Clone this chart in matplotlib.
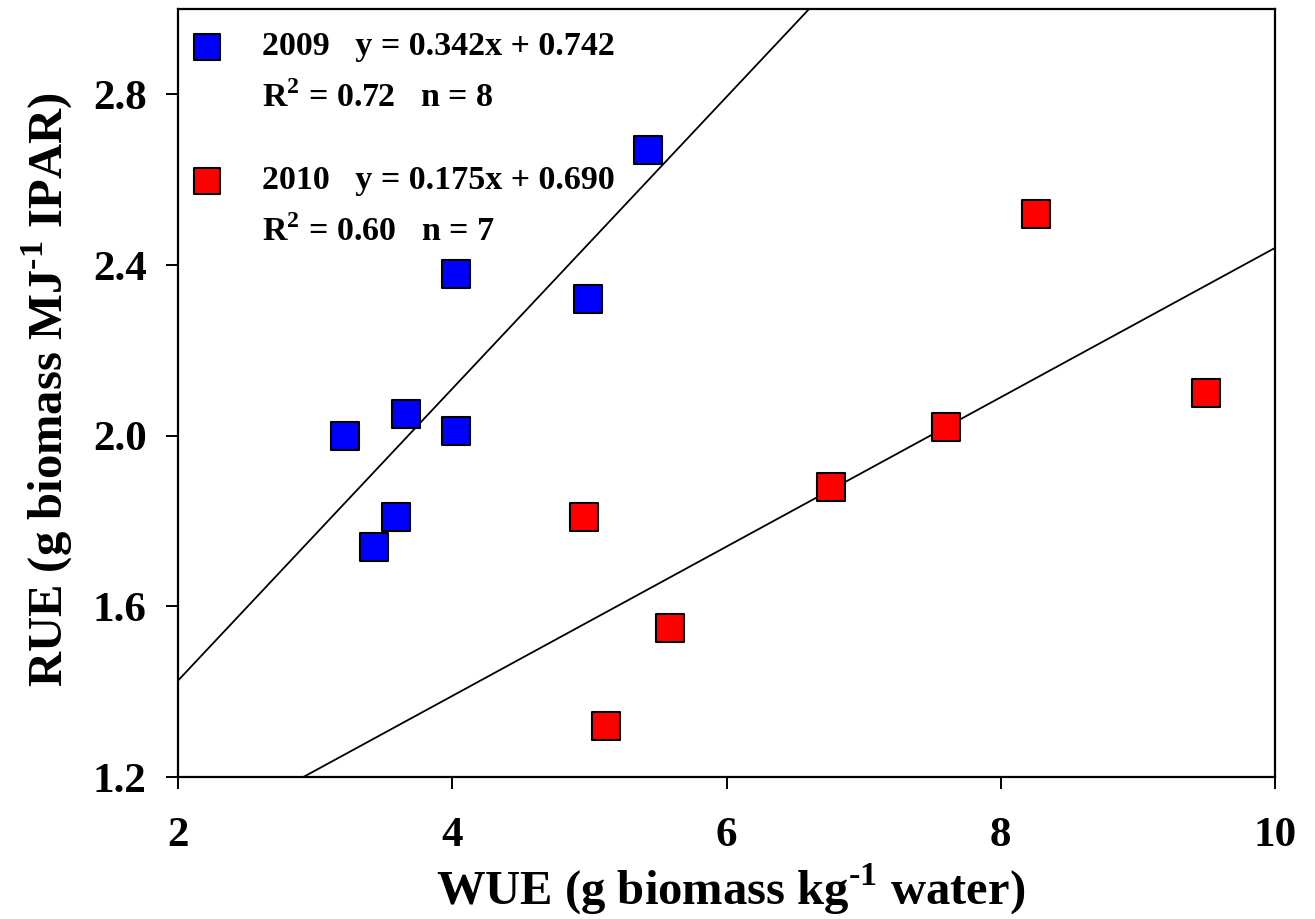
import matplotlib
matplotlib.use("Agg")
import matplotlib.pyplot as plt
import numpy as np

wue_2009 = [3.22, 3.43, 3.59, 3.66, 4.03, 4.03, 4.99, 5.43]
rue_2009 = [2.00, 1.74, 1.81, 2.05, 2.01, 2.38, 2.32, 2.67]
wue_2010 = [4.96, 5.12, 5.59, 6.76, 7.60, 8.26, 9.50]
rue_2010 = [1.81, 1.32, 1.55, 1.88, 2.02, 2.52, 2.10]
fit_2009 = (0.342, 0.742)
fit_2010 = (0.175, 0.690)
x_ticks = [2, 4, 6, 8, 10]
y_ticks = [1.2, 1.6, 2.0, 2.4, 2.8]

plt.rcParams['font.family'] = ['Liberation Serif', 'DejaVu Serif']
plt.rcParams['font.weight'] = 'bold'
plt.rcParams['mathtext.fontset'] = 'custom'
plt.rcParams['mathtext.rm'] = 'Liberation Serif:bold'
plt.rcParams['mathtext.bf'] = 'Liberation Serif:bold'

W, H = 1315, 919
fig = plt.figure(figsize=(W/100, H/100), dpi=100)
ax = fig.add_axes([178/W, 1-777/H, (1275-178)/W, (777-9)/H])

xs = np.array([2, 10])
ax.plot(xs, fit_2009[0]*xs + fit_2009[1], color='black', lw=1.3, zorder=2)
ax.plot(xs, fit_2010[0]*xs + fit_2010[1], color='black', lw=1.3, zorder=2)

ax.scatter(wue_2009, rue_2009, marker='s', s=20**2, c='#0000ff', edgecolors='black', linewidths=1.5, zorder=3)
ax.scatter(wue_2010, rue_2010, marker='s', s=20**2, c='#ff0000', edgecolors='black', linewidths=1.5, zorder=3)

ax.set_xlim(2, 10)
ax.set_ylim(1.2, 3.0)
ax.set_xticks(x_ticks)
ax.set_xticklabels([str(t) for t in x_ticks], fontsize=31, fontweight='bold')
ax.set_yticks(y_ticks)
ax.set_yticklabels([f"{t:.1f}" for t in y_ticks], fontsize=31, fontweight='bold')
ax.tick_params(direction='out', length=8.6, width=1.4)
ax.tick_params(axis='x', pad=20)
ax.tick_params(axis='y', pad=14)
for s in ax.spines.values():
    s.set_linewidth(1.6)

ax.set_xlabel(r'WUE (g biomass kg$^{\text{-1}}$ water)', fontsize=35, fontweight='bold', va='baseline')
ax.xaxis.set_label_coords(731/W, 1-905/H, transform=fig.transFigure)
ax.set_ylabel(r'RUE (g biomass MJ$^{\text{-1}}$ IPAR)', fontsize=35, fontweight='bold', va='baseline')
ax.yaxis.set_label_coords(63/W, 1-390/H, transform=fig.transFigure)

def px(x, y):
    return ((x-178)/(1275-178), (777-y)/(777-9))

for (yy, col) in [(47, '#0000ff'), (181, '#ff0000')]:
    ax.scatter([px(207, yy)[0]], [px(207, yy)[1]], transform=ax.transAxes, marker='s', s=19**2,
               c=col, edgecolors='black', linewidths=1.5, zorder=4, clip_on=False)

txt_kw = dict(transform=ax.transAxes, fontsize=24.5, fontweight='bold', va='center', ha='left')
ax.text(*px(262, 47), '2009   y = 0.342x + 0.742', **txt_kw)
ax.text(*px(262, 98), r'R$^{\text{2}}$ = 0.72   n = 8', **txt_kw)
ax.text(*px(262, 181), '2010   y = 0.175x + 0.690', **txt_kw)
ax.text(*px(262, 232), r'R$^{\text{2}}$ = 0.60   n = 7', **txt_kw)

fig.savefig('out.png', dpi=100)
